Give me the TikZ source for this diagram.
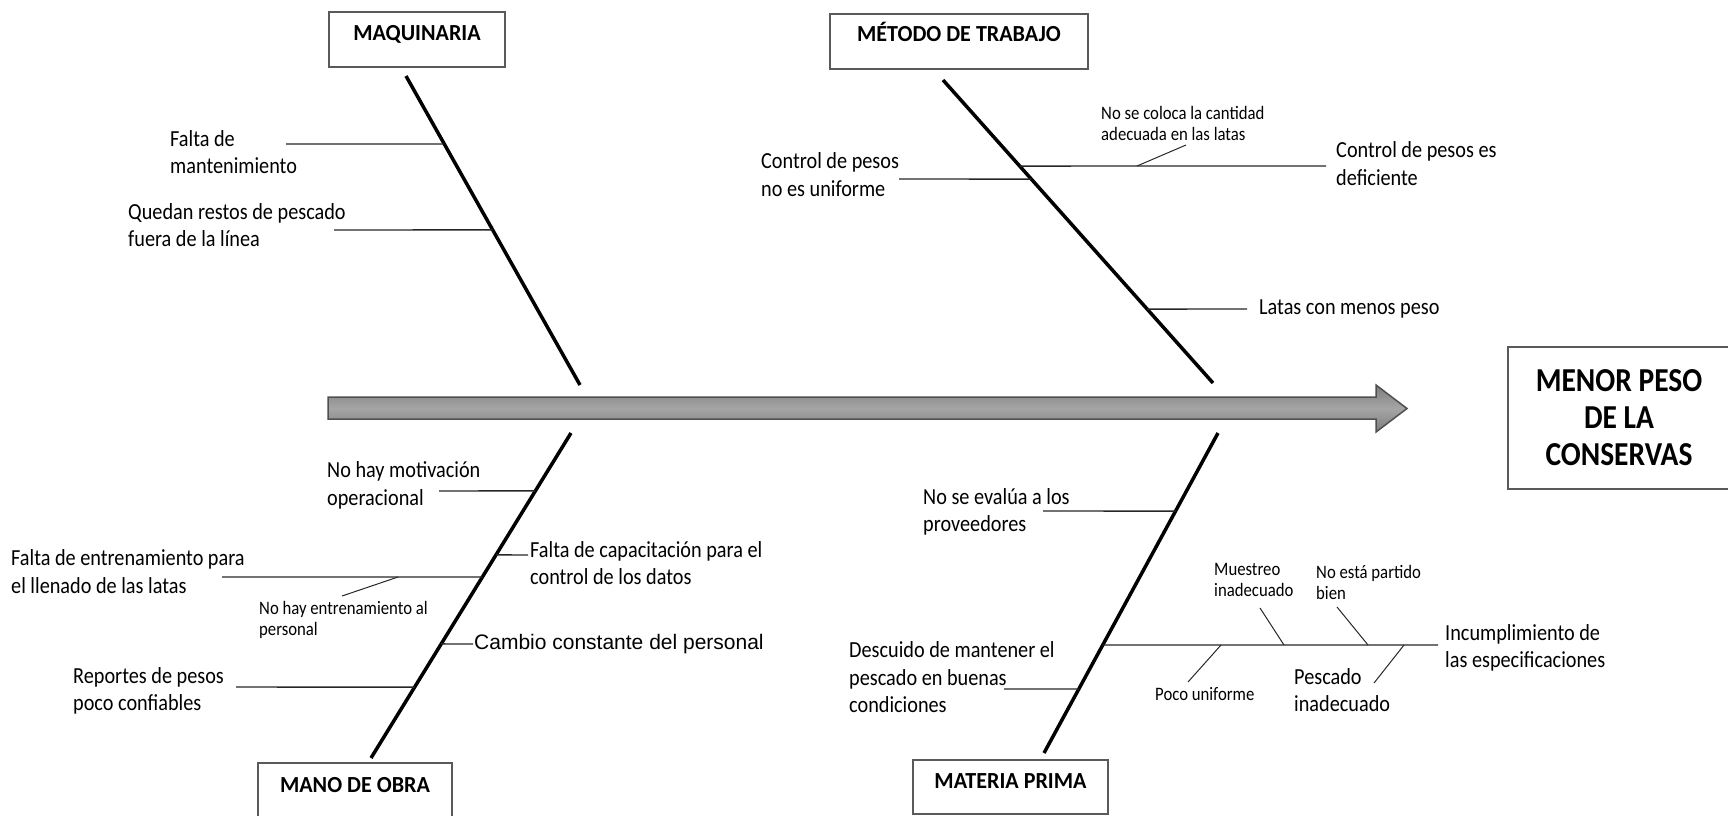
\documentclass[tikz,border=0pt]{standalone}
\usepackage{fontspec}
\setmainfont{Carlito}
\newfontfamily\lblfont{Carlito}[FakeStretch=0.88, BoldFeatures={FakeStretch=0.88}]
\newfontfamily\boxfont{Carlito}[FakeStretch=0.96, BoldFeatures={FakeStretch=0.96}]
\newfontfamily\arialfont{Liberation Sans}
\usetikzlibrary{calc}

\definecolor{boxgray}{RGB}{90,90,90}
\definecolor{spineedge}{RGB}{80,80,80}
\definecolor{spinemid}{RGB}{165,165,165}
\definecolor{spineside}{RGB}{125,125,125}

\tikzset{
  lbl/.style={font=\lblfont\fontsize{23}{27.5}\selectfont, align=left, inner sep=0pt, anchor=west},
  smalllbl/.style={font=\lblfont\fontsize{19}{21}\selectfont, align=left, inner sep=0pt, anchor=west},
  catbox/.style={draw=boxgray, line width=1.5pt, inner sep=0pt, anchor=north,
                 font=\boxfont\bfseries\fontsize{23}{27}\selectfont},
  bone/.style={line width=3.5pt, black},
  sub/.style={line width=1.4pt, black!85},
  twig/.style={line width=1pt, black!85},
  spine/.style={draw=spineedge, line width=1.5pt, top color=spineside,
                bottom color=spineside, middle color=spinemid},
}

\begin{document}
\begin{tikzpicture}[x=1pt, y=-1pt]
\useasboundingbox (0,0) rectangle (1728,815);

% ---- spine arrow ----
\draw[spine] (328,397) -- (1376,397) -- (1376,385) -- (1407,408.5)
  -- (1376,432) -- (1376,419) -- (328,419) -- cycle;

% ---- effect ----
\node[draw=boxgray, line width=1.5pt, minimum width=222pt, minimum height=142pt,
      align=center, inner sep=0pt, font=\lblfont\bfseries\fontsize{33.5}{37}\selectfont]
      (effect) at (1619,418) {MENOR PESO\\DE LA\\CONSERVAS};

% ---- category boxes ----
\node[catbox, minimum width=176pt, text height=29pt, text depth=26pt] (maq) at (417,11) {MAQUINARIA};
\node[catbox, minimum width=258pt, text height=28pt, text depth=27pt] (met) at (959,13) {MÉTODO DE TRABAJO};
\node[catbox, minimum width=194pt, text height=30pt, text depth=30pt] (mano) at (355,762) {MANO DE OBRA};
\node[catbox, minimum width=195pt, text height=29pt, text depth=25pt] (mat) at (1010.5,759) {MATERIA PRIMA};

% ---- main bones ----
\coordinate (mqT) at (406,76);   \coordinate (mqB) at (580,385);
\coordinate (mtT) at (943,80);   \coordinate (mtB) at (1213,383);
\coordinate (moT) at (571,433);  \coordinate (moB) at (371,758);
\coordinate (mpT) at (1218,433); \coordinate (mpB) at (1044,753);
\draw[bone] (mqT) -- (mqB);
\draw[bone] (mtT) -- (mtB);
\draw[bone] (moT) -- (moB);
\draw[bone] (mpT) -- (mpB);

% ---- MAQUINARIA causes ----
\node[lbl] (falta) at (170,152) {Falta de\\mantenimiento};
\node[lbl] (quedan) at (128,225) {Quedan restos de pescado\\fuera de la línea};
\coordinate (mq1) at ($(mqT)!0.220!(mqB)$); \coordinate (mq1e) at (286,144);
\coordinate (mq2) at ($(mqT)!0.498!(mqB)$); \coordinate (mq2e) at (334,230);
\draw[sub] (mq1e) -- (mq1);
\draw[sub] (mq2e) -- (mq2);

% ---- MÉTODO DE TRABAJO causes ----
\node[lbl] (cpu) at (761,174.5) {Control de pesos\\no es uniforme};
\node[lbl] (cpd) at (1336,163.5) {Control de pesos es\\deficiente};
\node[smalllbl] (nsc) at (1101,123.5) {No se coloca la cantidad\\adecuada en las latas};
\node[lbl] (latas) at (1259,309) {Latas con menos peso};
\coordinate (mt1) at ($(mtT)!0.284!(mtB)$); \coordinate (mt1e) at (1326,166);
\coordinate (mt2) at ($(mtT)!0.327!(mtB)$); \coordinate (mt2e) at (899,179);
\coordinate (mt3) at ($(mtT)!0.756!(mtB)$); \coordinate (mt3e) at (1247,309);
\coordinate (nscA) at (1137,166); \coordinate (nscB) at (1186,145);
\draw[sub] (mt1) -- (mt1e);
\draw[sub] (mt2e) -- (mt2);
\draw[sub] (mt3) -- (mt3e);
\draw[twig] (nscA) -- (nscB);

% ---- MANO DE OBRA causes ----
\node[lbl] (nhm) at (327,485.5) {No hay motivación\\operacional};
\node[lbl] (fcap) at (530,563) {Falta de capacitación para el\\control de los datos};
\node[lbl] (fent) at (11,571.5) {Falta de entrenamiento para\\el llenado de las latas};
\node[smalllbl] (nhe) at (259,619.5) {No hay entrenamiento al\\personal};
\node[lbl, font=\arialfont\fontsize{21}{25}\selectfont] (cambio) at (474,644) {Cambio constante del personal};
\node[lbl] (rep) at (73,691) {Reportes de pesos\\poco confiables};
\coordinate (mo1) at ($(moT)!0.178!(moB)$); \coordinate (mo1e) at (439,491);
\coordinate (mo2) at ($(moT)!0.375!(moB)$); \coordinate (mo2e) at (528,555);
\coordinate (mo3) at ($(moT)!0.443!(moB)$); \coordinate (mo3e) at (222,577);
\coordinate (mo4) at ($(moT)!0.649!(moB)$); \coordinate (mo4e) at (473,644);
\coordinate (mo5) at ($(moT)!0.782!(moB)$); \coordinate (mo5e) at (236,687);
\coordinate (nheA) at (342,596); \coordinate (nheB) at (398,577);
\draw[sub] (mo1e) -- (mo1);
\draw[sub] (mo2) -- (mo2e);
\draw[sub] (mo3e) -- (mo3);
\draw[sub] (mo4) -- (mo4e);
\draw[sub] (mo5e) -- (mo5);
\draw[twig] (nheA) -- (nheB);

% ---- MATERIA PRIMA causes ----
\node[lbl] (nse) at (923,512) {No se evalúa a los\\proveedores};
\node[lbl] (inc) at (1445,648) {Incumplimiento de\\las especificaciones};
\node[smalllbl] (mue) at (1214,579.5) {Muestreo\\inadecuado};
\node[smalllbl] (nep) at (1316,582.5) {No está partido\\bien};
\node[smalllbl] (poco) at (1155,694) {Poco uniforme};
\node[lbl] (pes) at (1294,690) {Pescado\\inadecuado};
\node[lbl] (desc) at (849,677.5) {Descuido de mantener el\\pescado en buenas\\condiciones};
\coordinate (mp1) at ($(mpT)!0.244!(mpB)$);  \coordinate (mp1e) at (1043,511);
\coordinate (mp2) at ($(mpT)!0.6625!(mpB)$); \coordinate (mp2e) at (1438,645);
\coordinate (mp3) at ($(mpT)!0.8!(mpB)$);    \coordinate (mp3e) at (1004,689);
\draw[sub] (mp1e) -- (mp1);
\draw[sub] (mp2) -- (mp2e);
\draw[sub] (mp3e) -- (mp3);
\coordinate (mueA) at (1260,608);  \coordinate (mueB) at (1284,645);
\coordinate (nepA) at (1337,607);  \coordinate (nepB) at (1368,645);
\coordinate (pocoA) at (1188,682); \coordinate (pocoB) at (1221,645);
\coordinate (pesA) at (1374,683);  \coordinate (pesB) at (1404,645);
\draw[twig] (mueA) -- (mueB);
\draw[twig] (nepA) -- (nepB);
\draw[twig] (pocoA) -- (pocoB);
\draw[twig] (pesA) -- (pesB);
\end{tikzpicture}
\end{document}
